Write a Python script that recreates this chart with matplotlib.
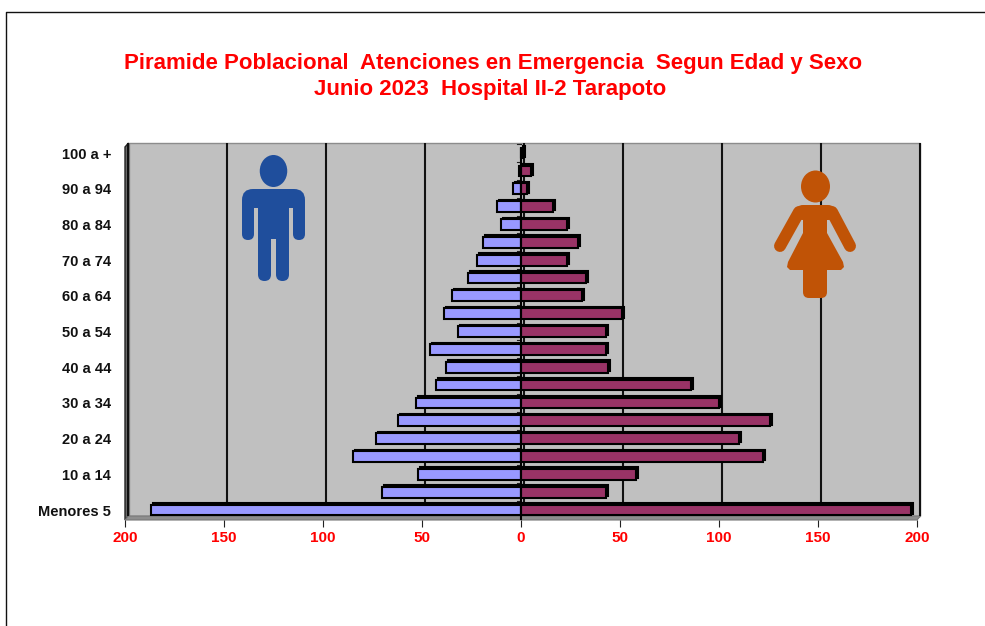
import matplotlib
matplotlib.use("Agg")
import matplotlib.pyplot as plt
import numpy as np
from matplotlib.lines import Line2D
from matplotlib.patches import Ellipse, FancyBboxPatch, Polygon, Rectangle
from matplotlib.transforms import Affine2D, ScaledTranslation

plt.rcParams['font.family'] = ['Liberation Sans', 'DejaVu Sans']

# bottom to top, as the axis runs
age_groups = ['Menores 5', '5 a 9', '10 a 14', '15 a 19', '20 a 24', '25 a 29', '30 a 34',
              '35 a 39', '40 a 44', '45 a 49', '50 a 54', '55 a 59', '60 a 64', '65 a 69',
              '70 a 74', '75 a 79', '80 a 84', '85 a 89', '90 a 94', '95 a 99', '100 a +']
hombres = [187, 70, 52, 85, 73, 62, 53, 43, 38, 46, 32, 39, 35, 27, 22, 19, 10, 12, 4, 1, 0]
mujeres = [197, 43, 58, 122, 110, 126, 100, 86, 44, 43, 43, 51, 31, 33, 23, 29, 23, 16, 3, 5, 1]
x_ticks = [-200, -150, -100, -50, 0, 50, 100, 150, 200]
x_labels = ['200', '150', '100', '50', '0', '50', '100', '150', '200']

W, H = 985, 626
fig = plt.figure(figsize=(W / 100, H / 100), dpi=100, facecolor='white')

# pixel coords of the reference, y going down
px = Affine2D().scale(1, -1).translate(0, H)


def axes_box(left, top, right, bottom):
    return [left / W, 1 - bottom / H, (right - left) / W, (bottom - top) / H]


ax = fig.add_axes(axes_box(125, 147, 917, 520))
ax.patch.set_visible(False)
for s in ax.spines.values():
    s.set_visible(False)
ax.set_xlim(-200, 200)
ax.set_ylim(-0.56, 20.34)

# fake 3d depth of the excel chart
depth = ScaledTranslation(3.5 / 100, 4 / 100, fig.dpi_scale_trans)
bar_depth = ScaledTranslation(2 / 100, 1.5 / 100, fig.dpi_scale_trans)

ax.add_patch(Rectangle((0, 0), 1, 1, transform=ax.transAxes + depth, fc='#C0C0C0', ec='#8c8c8c', lw=1,
                       zorder=0, clip_on=False))
ax.add_patch(Polygon([(125, 147), (128.5, 143), (128.5, 516), (125, 520)], closed=True, transform=px,
                     fc='#6e6e6e', ec='#222222', lw=1, zorder=0.5, clip_on=False))
ax.add_patch(Polygon([(125, 520), (128.5, 516), (920.5, 516), (917, 520)], closed=True, transform=px,
                     fc='#8e8e8e', ec='#777777', lw=0.8, zorder=0.5, clip_on=False))

for t in x_ticks:
    ax.plot([t, t], [-0.56, 20.34], color='#111111', lw=1.5, transform=ax.transData + depth, zorder=1,
            solid_capstyle='butt', clip_on=False)

y = np.arange(len(age_groups))
male = -np.array(hombres)
female = np.array(mujeres)

for vals in (male, female):
    shadow = ax.barh(y, vals, height=0.6, color='black', edgecolor='black', lw=1.5,
                     transform=ax.transData + bar_depth, zorder=2)
    for b in shadow:
        b.set_clip_on(False)
ax.barh(y, male, height=0.6, color='#9999FF', edgecolor='black', lw=1.5, zorder=3)
ax.barh(y, female, height=0.6, color='#993366', edgecolor='black', lw=1.5, zorder=3)

ax.plot([0, 0], [-0.56, 20.34], color='black', lw=1.5, zorder=4)

ax.set_xticks(x_ticks)
ax.set_xticklabels(x_labels, color='#FF0000', fontweight='bold', fontsize=11)
ax.tick_params(axis='x', length=5, width=0.8, pad=3, color='#222222')

ax.set_yticks(y[::2])
ax.set_yticklabels(age_groups[::2], fontweight='bold', fontsize=10.5, color='#111111')
ax.tick_params(axis='y', length=0, pad=10)

# small category ticks along the zero axis
for i in y:
    ax.plot([-2, 0], [i + 0.5, i + 0.5], color='#222222', lw=0.8, zorder=1.5, clip_on=False)

fig.text(493 / W, 1 - 63 / H, 'Piramide Poblacional  Atenciones en Emergencia  Segun Edad y Sexo',
         ha='center', va='center', color='#FF0000', fontweight='bold', fontsize=16)
fig.text(490 / W, 1 - 89 / H, 'Junio 2023  Hospital II-2 Tarapoto',
         ha='center', va='center', color='#FF0000', fontweight='bold', fontsize=16)

# page frame
fig.add_artist(Line2D([6, 6, 985], [626, 11.5, 11.5], transform=px, color='#111111', lw=1))


def rbox(x0, y0, x1, y1, r, color):
    return FancyBboxPatch((x0 + r, y0 + r), x1 - x0 - 2 * r, y1 - y0 - 2 * r,
                          boxstyle='round,pad=%f,rounding_size=%f' % (r, r),
                          transform=px, fc=color, ec='none', zorder=6, clip_on=False)


# hombre
BLUE = '#1F4E9C'
ax.add_patch(Ellipse((273.5, 171), 27.5, 32, transform=px, fc=BLUE, ec='none', zorder=6))
ax.add_patch(rbox(242, 189, 305, 215, 11, BLUE))
ax.add_patch(rbox(242, 200, 254, 240, 6, BLUE))
ax.add_patch(rbox(293, 200, 305, 240, 6, BLUE))
ax.add_patch(rbox(258, 195, 289, 239, 1, BLUE))
ax.add_patch(rbox(258, 225, 271, 281, 6.5, BLUE))
ax.add_patch(rbox(276, 225, 289, 281, 6.5, BLUE))
ax.add_patch(Rectangle((254, 208), 4, 10, transform=px, fc='#C0C0C0', ec='none', zorder=6.5))
ax.add_patch(Rectangle((289, 208), 4, 10, transform=px, fc='#C0C0C0', ec='none', zorder=6.5))

# mujer
ORANGE = '#C05306'
ax.add_patch(Ellipse((815.5, 186.5), 29, 32, transform=px, fc=ORANGE, ec='none', zorder=6))
ax.add_patch(rbox(796, 205, 835, 220, 7, ORANGE))
ax.add_patch(Polygon([(803, 210), (827, 210), (827, 233), (843, 262), (844, 267), (841, 270), (790, 270),
                      (787, 267), (788, 262), (803, 233)],
                     closed=True, transform=px, fc=ORANGE, ec='none', zorder=6))
ax.add_patch(rbox(803, 260, 827, 298, 6, ORANGE))
for xa, xb in [(799, 780), (832, 850)]:
    ax.add_line(Line2D([xa, xb], [212, 246], transform=px, color=ORANGE, lw=8.6,
                       solid_capstyle='round', zorder=6))

fig.savefig('out.png', dpi=100)
